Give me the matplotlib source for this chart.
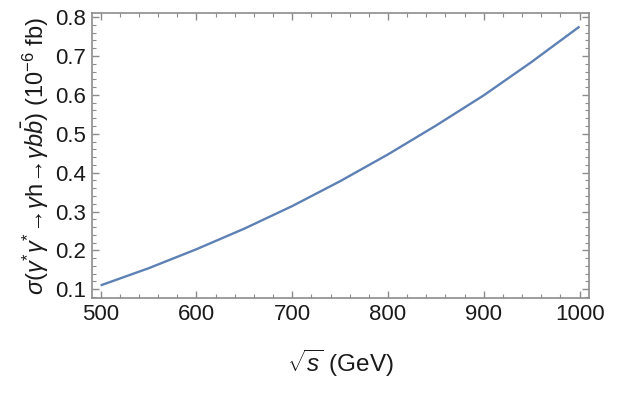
import matplotlib
matplotlib.use("Agg")
import matplotlib.pyplot as plt
from matplotlib.ticker import MultipleLocator

plt.rcParams['font.family'] = ['Liberation Sans', 'DejaVu Sans']
plt.rcParams['mathtext.fontset'] = 'custom'
plt.rcParams['mathtext.rm'] = 'Liberation Sans'
plt.rcParams['mathtext.it'] = 'Liberation Sans:italic'
plt.rcParams['mathtext.bf'] = 'Liberation Sans:bold'

# Data
sqrt_s = [500, 550, 600, 650, 700, 750, 800, 850, 900, 950, 1000]
sigma = [0.110, 0.154, 0.203, 0.256, 0.314, 0.378, 0.447, 0.521, 0.599, 0.685, 0.776]
x_ticks = [500, 600, 700, 800, 900, 1000]
y_ticks = [0.1, 0.2, 0.3, 0.4, 0.5, 0.6, 0.7, 0.8]

fig = plt.figure(figsize=(6.28, 3.93), dpi=100)
ax = fig.add_axes([0.1465, 0.241, 0.7909, 0.7252])

ax.plot(sqrt_s, sigma, color='#5E81B5', lw=1.7, solid_capstyle='butt')

ax.set_xlim(491, 1009.5)
ax.set_ylim(0.0768, 0.810)
ax.set_xticks(x_ticks)
ax.set_yticks(y_ticks)
ax.set_xticklabels([str(v) for v in x_ticks])
ax.set_yticklabels([f"{v:.1f}" for v in y_ticks])
ax.xaxis.set_minor_locator(MultipleLocator(20))
ax.yaxis.set_minor_locator(MultipleLocator(0.02))

frame_col = '#8c8c8c'
for sp in ax.spines.values():
    sp.set_color(frame_col)
    sp.set_linewidth(1.2)
ax.tick_params(which='both', direction='in', top=True, right=True, color=frame_col,
               labelsize=16, labelcolor='#1a1a1a')
ax.tick_params(which='major', length=5, width=1.0, pad=4)
ax.tick_params(which='minor', length=3, width=0.8)

ax.set_xlabel(r'$\sqrt{s}$ (GeV)', fontsize=17.5, color='#1a1a1a', labelpad=16)
ax.set_ylabel(r'$\sigma(\gamma^{*}\gamma^{*}\!\rightarrow\!\gamma\mathrm{h}\!\rightarrow\!\gamma b\bar{b})$ (10$^{-6}$ fb)',
              fontsize=17, color='#1a1a1a', labelpad=3)

fig.savefig('out.png', dpi=100)
